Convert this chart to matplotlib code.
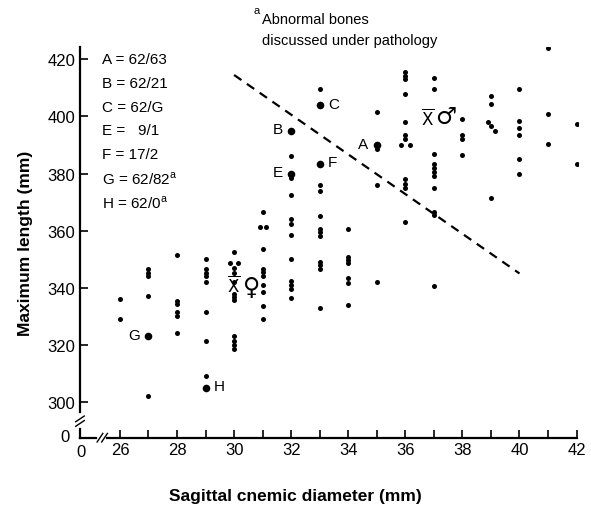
import matplotlib
matplotlib.use("Agg")
import matplotlib.pyplot as plt

plt.rcParams['font.family'] = ['Liberation Sans', 'DejaVu Sans']

# sagittal cnemic diameter (mm) and maximum length (mm), unlabelled bones
x = ([26, 26] +
     [27] * 5 +
     [28] * 6 +
     [29] * 8 +
     [30, 29.85, 30.15] + [30] * 10 +
     [31, 30.9, 31.1] + [31] * 8 +
     [32] * 11 +
     [33] * 11 +
     [34] * 7 +
     [35] * 4 +
     [36] * 7 + [35.85, 36.15] + [36] * 4 +
     [37] * 11 +
     [38] * 4 +
     [39, 39, 38.9, 39.0, 39.15, 39] +
     [40] * 6 +
     [41] * 3 +
     [42] * 2)
y = ([336, 329] +
     [346.5, 345.2, 344, 337, 302] +
     [351.5, 335.5, 334.3, 331.5, 330, 324] +
     [350, 346.5, 345, 344, 342, 331.5, 321.5, 309] +
     [352.6, 348.6, 348.6, 346.9, 345.1, 341.9, 337.8, 336.6, 335.8, 323, 321.5, 320, 318.6] +
     [366.5, 361.3, 361.3, 353.5, 346.5, 345.5, 344, 341, 338.5, 333.5, 329] +
     [386, 378.5, 372.5, 364, 362.5, 358.5, 350, 342.5, 341, 339.5, 336.5] +
     [409.5, 376, 374, 365, 360.5, 359.5, 358, 349, 348, 346.5, 333] +
     [360.5, 350.7, 349.7, 348.7, 343.5, 341.5, 334] +
     [401.5, 388.6, 376, 342] +
     [415.5, 414.3, 413.1, 408, 398, 393.5, 392, 390, 390, 378, 376.5, 375, 363] +
     [413.5, 409.5, 387, 383.5, 382, 380.5, 379, 375, 366.5, 365.5, 340.5] +
     [399, 393.5, 392, 386.5] +
     [407, 404.5, 398, 396.5, 395, 371.5] +
     [409.5, 398.5, 396, 393.5, 385, 380] +
     [424, 401, 390.5] +
     [397.5, 383.5])

# labelled bones
lab_names = ["A", "B", "C", "E", "F", "G", "H"]
lab_x = [35, 32, 33, 32, 33, 27, 29]
lab_y = [390, 395, 404, 380, 383.5, 323, 305]
lab_side = ["left", "left", "right", "left", "right", "left", "right"]

key_lines = ["A = 62/63", "B = 62/21", "C = 62/G", "E =   9/1", "F = 17/2",
             "G = 62/82$^{\\mathregular{a}}$", "H = 62/0$^{\\mathregular{a}}$"]

# dashed divider
div_x = [30, 40]
div_y = [414.5, 345]

# sex means
fem_mean = (30.0, 341.3)
male_mean = (36.8, 399.8)

W, H = 591, 510
fig = plt.figure(figsize=(W / 100, H / 100), dpi=100)
ax = fig.add_axes([80 / W, 1 - 439 / H, (578 - 80) / W, (439 - 48) / H])
ax.set_xlim(24.6, 42.05)
ax.set_ylim(287.4, 424.3)

ax.scatter(x, y, s=13, c="black", linewidths=0)
ax.scatter(lab_x, lab_y, s=30, c="black", linewidths=0)
for n, lx, ly, side in zip(lab_names, lab_x, lab_y, lab_side):
    dx = -6 if side == "left" else 6
    ax.annotate(n, (lx, ly), xytext=(dx, 1), textcoords="offset points",
                ha="right" if side == "left" else "left", va="center", fontsize=11)

ax.plot(div_x, div_y, "k--", lw=1.6, dashes=(4, 3))

ax.text(*fem_mean, "$\\overline{\\mathrm{X}}$", fontsize=12, ha="center", va="center")
ax.annotate("\u2640", fem_mean, xytext=(12.5, -2), textcoords="offset points",
            fontsize=17, family="DejaVu Sans", ha="center", va="center")
ax.text(*male_mean, "$\\overline{\\mathrm{X}}$", fontsize=12, ha="center", va="center")
ax.annotate("\u2642", male_mean, xytext=(12.5, 1), textcoords="offset points",
            fontsize=17, family="DejaVu Sans", ha="center", va="center")

for i, t in enumerate(key_lines):
    fig.text(102 / W, 1 - (60 + i * 23.8) / H, t, fontsize=11, va="center")

fig.text(253 / W, 1 - 11 / H, "a", fontsize=8, va="center")
fig.text(262 / W, 1 - 20 / H, "Abnormal bones", fontsize=10.5, va="center")
fig.text(262 / W, 1 - 41 / H, "discussed under pathology", fontsize=10.5, va="center")

# axes with breaks
for s in ["top", "right"]:
    ax.spines[s].set_visible(False)
ax.spines["left"].set_bounds(296.5, 424.3)
ax.spines["bottom"].set_bounds(25.55, 42)
ax.spines["left"].set_linewidth(1.6)
ax.spines["bottom"].set_linewidth(1.6)
ax.plot([24.6, 24.6], [287.4, 290.5], "k", lw=1.6, clip_on=False)
ax.plot([24.6, 25.15], [287.4, 287.4], "k", lw=1.6, clip_on=False)
for off in [0, 1.6]:
    ax.plot([24.45, 24.75], [291.5 + off, 293.5 + off], "k", lw=1, clip_on=False)
for off in [0, 0.16]:
    ax.plot([25.2 + off, 25.4 + off], [286.0, 289.0], "k", lw=1, clip_on=False)

ax.set_yticks(range(300, 421, 20))
ax.set_xticks(range(26, 43, 2))
ax.set_xticks(range(27, 42, 2), minor=True)
ax.tick_params(direction="in", length=6, width=1.2, labelsize=12)
ax.tick_params(axis="x", pad=3)
ax.tick_params(which="minor", direction="in", length=6, width=1.2)
ax.text(-0.02, 0.005, "0", transform=ax.transAxes, ha="right", va="center", fontsize=12)
ax.text(0.003, -0.015, "0", transform=ax.transAxes, ha="center", va="top", fontsize=12)

ax.set_ylabel("Maximum length (mm)", fontsize=12.5, fontweight="bold", labelpad=10)
fig.text(295 / W, 1 - 497 / H, "Sagittal cnemic diameter (mm)", fontsize=12.5,
         fontweight="bold", ha="center", va="center")

fig.savefig("out.png", dpi=100)
